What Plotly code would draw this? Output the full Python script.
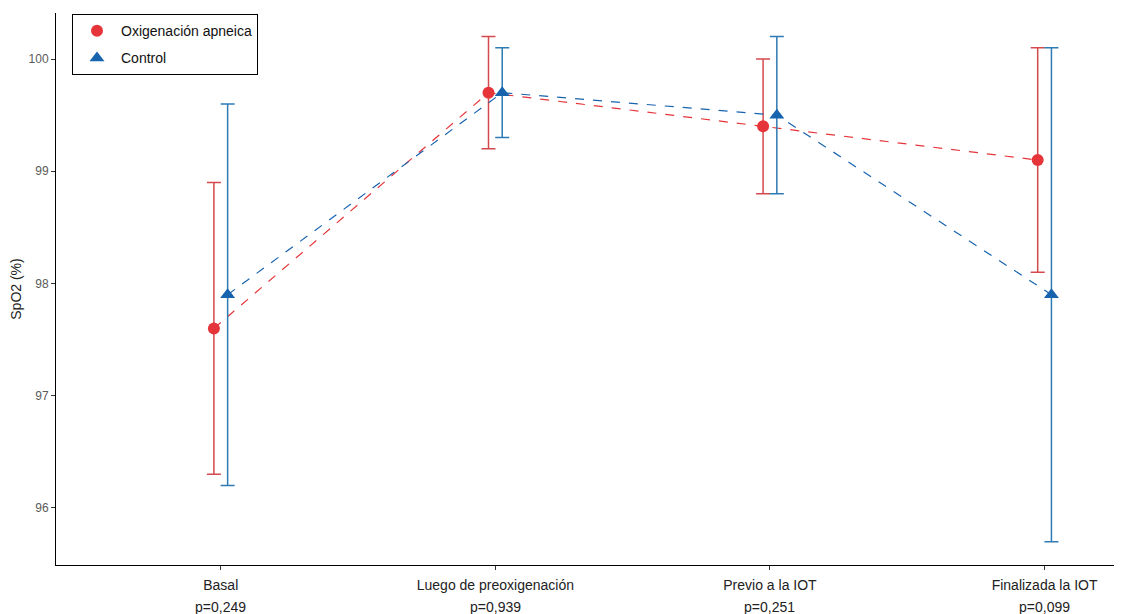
import plotly.graph_objects as go

categories = ["Basal", "Luego de preoxigenación", "Previo a la IOT", "Finalizada la IOT"]
p_values = ["p=0,249", "p=0,939", "p=0,251", "p=0,099"]

oxi_mean = [97.6, 99.7, 99.4, 99.1]
oxi_low = [96.3, 99.2, 98.8, 98.1]
oxi_high = [98.9, 100.2, 100.0, 100.1]

ctrl_mean = [97.9, 99.7, 99.5, 97.9]
ctrl_low = [96.2, 99.3, 98.8, 95.7]
ctrl_high = [99.6, 100.1, 100.2, 100.1]

dodge = 0.025
xs = list(range(len(categories)))

red = "#E5353A"
blue = "#1763AE"
FONT = "Liberation Sans, Arial, sans-serif"

fig = go.Figure()

def add_series(name, mean, low, high, offset, color, ecolor, symbol, msize):
    x = [i + offset for i in xs]
    fig.add_trace(go.Scatter(
        x=x, y=mean, name=name, mode="lines+markers", showlegend=False,
        line=dict(color=color, width=1.2, dash="dash"),
        marker=dict(color=color, size=msize, symbol=symbol),
        error_y=dict(type="data", symmetric=False,
                     array=[h - m for h, m in zip(high, mean)],
                     arrayminus=[m - l for m, l in zip(mean, low)],
                     color=ecolor, thickness=1.5, width=7),
    ))
    fig.add_trace(go.Scatter(
        x=[None], y=[None], name=name, mode="markers", legendgroup=name,
        marker=dict(color=color, size=msize, symbol=symbol),
    ))

add_series("Oxigenación apneica", oxi_mean, oxi_low, oxi_high, -dodge, red, "#D5494E", "circle", 12)
add_series("Control", ctrl_mean, ctrl_low, ctrl_high, dodge, blue, "#2E7AB4", "triangle-up", 13)

for i, p in enumerate(p_values):
    fig.add_annotation(x=i, y=0, xref="x", yref="paper", text=p, showarrow=False,
                       yanchor="middle", yshift=-42,
                       font=dict(family=FONT, size=14, color="#222"))

fig.update_layout(
    width=1114, height=606,
    margin=dict(l=48, r=0, t=5, b=49),
    paper_bgcolor="white", plot_bgcolor="white",
    font=dict(family=FONT, size=14, color="#222"),
    showlegend=True,
    legend=dict(x=0.015, y=0.998, xanchor="left", yanchor="top",
                bordercolor="black", borderwidth=1, bgcolor="white",
                font=dict(size=14, color="#111"), tracegroupgap=6,
                itemwidth=38,
                entrywidth=201, entrywidthmode="pixels"),
    xaxis=dict(
        range=[-0.6, 3.282], tickmode="array", tickvals=xs,
        ticktext=categories, automargin=False, ticklabelstandoff=3,
        showline=True, linecolor="black", linewidth=1,
        ticks="outside", ticklen=4, tickcolor="#333",
        showgrid=False, zeroline=False,
        tickfont=dict(size=14, color="#222"),
    ),
    yaxis=dict(
        range=[95.492, 100.41], tickvals=[96, 97, 98, 99, 100], automargin=False,
        showline=True, linecolor="black", linewidth=1,
        ticks="outside", ticklen=4, tickcolor="#333",
        showgrid=False, zeroline=False,
        tickfont=dict(size=12, color="#5a5a5a"),
        title=dict(text="SpO2 (%)", font=dict(size=14, color="#222"), standoff=8),
    ),
)

fig.write_html("out.html")
